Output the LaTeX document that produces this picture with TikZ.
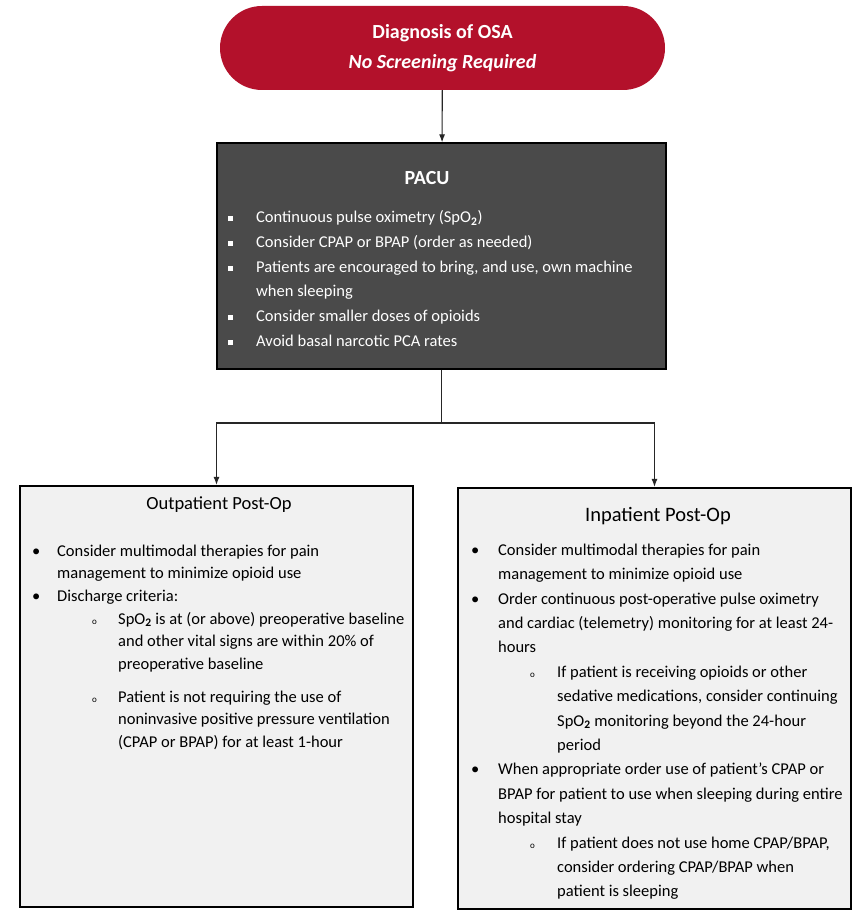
\documentclass[tikz,border=0pt]{standalone}
\usepackage{fontspec}
\setmainfont{Carlito}
\usetikzlibrary{arrows.meta}
\definecolor{osared}{HTML}{B3112B}
\definecolor{pacugray}{HTML}{4A4A4A}
\definecolor{postgray}{HTML}{F1F1F1}
\newcommand{\sqbul}{\raisebox{1.5pt}{\rule{5pt}{5pt}}}
\newcommand{\subbul}{{\fontsize{9}{9}\selectfont o}}
\newcommand{\spo}{SpO\textsubscript{\textbf{2}}}
\newcommand{\wide}[1]{\multicolumn{2}{@{}l@{}}{#1}}
\begin{document}
\begin{tikzpicture}[x=1pt,y=1pt,
  headbox/.style={draw=none,fill=osared,rounded corners=42pt,minimum width=445pt,minimum height=84pt,
    text=white,font=\fontsize{20}{30}\selectfont\bfseries,align=center},
  pacubox/.style={draw=black,line width=1.2pt,fill=pacugray,minimum width=449pt,minimum height=226pt},
  postbox/.style={draw=black,line width=2.2pt,fill=postgray,minimum width=393pt,minimum height=421pt},
  bodytext/.style={anchor=north west,inner sep=0pt,align=left},
  link/.style={draw=black!85,line width=1.1pt},
  arr/.style={link,-{Latex[length=8pt,width=6pt]}}]
\useasboundingbox (0,0) rectangle (854,914);
\fill[white] (0,0) rectangle (854,914);

% top node
\node[headbox] (osa) at (442.5,866) {Diagnosis of OSA\\\itshape No Screening Required};

% PACU
\node[pacubox] (pacu) at (441.5,658) {};
\node[text=white,font=\fontsize{20}{22}\selectfont\bfseries] (pacut) at (427,736) {PACU};
\node[bodytext,text=white,font=\fontsize{16.5}{24.8}\selectfont] (pacub) at (228,709) {%
\begin{tabular}{@{}p{28pt}@{}l@{}}
\sqbul & Continuous pulse oximetry (\spo)\\
\sqbul & Consider CPAP or BPAP (order as needed)\\
\sqbul & Patients are encouraged to bring, and use, own machine\\
 & when sleeping\\
\sqbul & Consider smaller doses of opioids\\
\sqbul & Avoid basal narcotic PCA rates
\end{tabular}};

% outpatient
\node[postbox] (outp) at (216.5,217.5) {};
\node[font=\fontsize{18.5}{20}\selectfont] (outpt) at (219,409) {Outpatient Post-Op};
\node[bodytext,font=\fontsize{16.5}{22.7}\selectfont] (outpb) at (32,374) {%
\begin{tabular}{@{}p{25pt}@{}p{61pt}@{}l@{}}
\textbullet & \wide{Consider multimodal therapies for pain}\\
 & \wide{management to minimize opioid use}\\
\textbullet & \wide{Discharge criteria:}\\
 & \hspace*{35pt}\subbul & \spo{} is at (or above) preoperative baseline\\
 & & and other vital signs are within 20\% of\\
 & & preoperative baseline\\[10pt]
 & \hspace*{35pt}\subbul & Patient is not requiring the use of\\
 & & noninvasive positive pressure ventilation\\
 & & (CPAP or BPAP) for at least 1-hour
\end{tabular}};

% inpatient
\node[postbox] (inp) at (654.5,215.5) {};
\node[font=\fontsize{20.5}{22}\selectfont] (inpt) at (658,398) {Inpatient Post-Op};
\node[bodytext,font=\fontsize{16.5}{24.4}\selectfont] (inpb) at (471,376) {%
\begin{tabular}{@{}p{27pt}@{}p{59pt}@{}l@{}}
\textbullet & \wide{Consider multimodal therapies for pain}\\
 & \wide{management to minimize opioid use}\\
\textbullet & \wide{Order continuous post-operative pulse oximetry}\\
 & \wide{and cardiac (telemetry) monitoring for at least 24-}\\
 & \wide{hours}\\
 & \hspace*{32pt}\subbul & If patient is receiving opioids or other\\
 & & sedative medications, consider continuing\\
 & & \spo{} monitoring beyond the 24-hour\\
 & & period\\
\textbullet & \wide{When appropriate order use of patient’s CPAP or}\\
 & \wide{BPAP for patient to use when sleeping during entire}\\
 & \wide{hospital stay}\\
 & \hspace*{32pt}\subbul & If patient does not use home CPAP/BPAP,\\
 & & consider ordering CPAP/BPAP when\\
 & & patient is sleeping
\end{tabular}};

% connectors
\coordinate (split) at (441.5,491);
\draw[arr] (osa) -- (pacu);
\draw[link] (pacu) -- (split);
\draw[arr] (split) -| (outp);
\draw[arr] (split) -| (inp);
\end{tikzpicture}
\end{document}
